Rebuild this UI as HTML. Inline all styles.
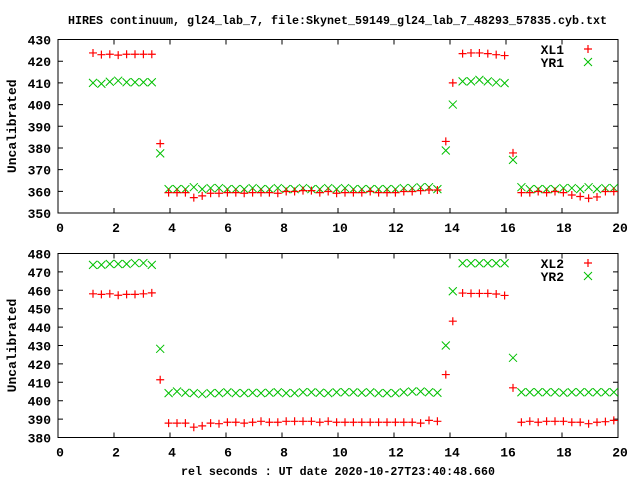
<!DOCTYPE html>
<html><head><meta charset="utf-8"><style>
html,body{margin:0;padding:0;background:#fff;}
svg{display:block;}
text{font-family:"Liberation Mono",monospace;font-weight:bold;font-size:13px;fill:#000;}
</style></head><body>
<svg id="chart" width="640" height="480" viewBox="0 0 640 480" xmlns="http://www.w3.org/2000/svg">
<text x="68" y="24" textLength="539" lengthAdjust="spacingAndGlyphs" style="font-size:12px">HIRES continuum, gl24_lab_7, file:Skynet_59149_gl24_lab_7_48293_57835.cyb.txt</text>
<text x="181" y="475" textLength="314" lengthAdjust="spacingAndGlyphs" style="font-size:12px">rel seconds : UT date 2020-10-27T23:40:48.660</text>
<g id="p1"></g>
<g id="p2"></g>
</svg>
<script>
const times=[1.25,1.55,1.85,2.15,2.45,2.75,3.05,3.35,3.65,3.95,4.25,4.55,4.85,5.15,5.45,5.75,6.05,6.35,6.65,6.95,7.25,7.55,7.85,8.15,8.45,8.75,9.05,9.35,9.65,9.95,10.25,10.55,10.85,11.15,11.45,11.75,12.05,12.35,12.65,12.95,13.25,13.55,13.85,14.1,14.45,14.75,15.05,15.35,15.65,15.95,16.25,16.55,16.85,17.15,17.45,17.75,18.05,18.35,18.65,18.95,19.25,19.55,19.85];
const xl1=[423.8,423,423.2,422.8,423.2,423.2,423.2,423.2,382,
359.4,359.4,359.4,357.1,357.9,359.1,359.1,359.4,359.4,359.1,359.4,359.4,359.4,359.1,359.9,359.9,360.3,360.3,359.4,359.9,359.1,
359.4,359.4,359.4,359.9,359.4,359.4,359.4,359.9,359.9,360.3,360.6,360.6,
383,410,423.5,423.8,423.8,423.5,423,422.6,377.7,
359.4,359.4,359.9,359.4,359.9,359.4,358.3,357.6,356.8,357.4,359.9,359.9];
const yr1=[410,409.6,410.5,411,410.3,410.3,410.3,410.3,377.5,
361,361,361,361.9,361,361.5,361.5,361,361,361,361.5,361,361,361.5,361,361,361.5,361,361,361.5,361,361.5,361,361,361,361,361,361,361.5,361.5,361.9,361.9,361,
378.8,400,410.7,410.7,411.4,410.7,410.2,409.9,374.5,
361.9,361,361,361,361,361.5,361.5,361,361.9,361,361.5,361.5];
const xl2=[458.1,457.8,458.1,457.3,457.8,457.8,458.1,458.6,411.4,
387.8,387.8,387.8,385.6,386.3,387.8,387.5,388.3,388.3,387.8,388.3,388.8,388.3,388.3,388.8,388.8,388.8,388.8,388.3,388.8,388.3,388.3,388.3,388.3,388.3,388.3,388.3,388.3,388.3,388.3,387.8,389.3,388.8,
414.2,443.2,458.5,458.3,458.3,458.3,458,457.2,407,
388.3,388.8,388.3,388.8,388.8,388.8,388.3,388.3,387.5,388.3,388.6,389.3];
const yr2=[473.8,473.8,474.3,474.3,474.3,474.8,474.8,473.8,428.2,
404.1,405,404.3,404.1,403.6,404.1,404.1,404.6,404.1,404.1,404.3,404.1,404.3,404.6,404.1,404.1,404.6,404.6,404.3,404.1,404.6,404.6,404.6,404.3,404.6,404.1,404.1,404.1,404.6,405,405,404.6,404.3,
430,459.5,474.7,474.7,474.7,474.7,474.7,474.7,423.3,
404.6,404.6,404.6,404.6,404.6,404.3,404.6,404.6,404.6,404.6,404.6,404.6];
const xTicks=[0,2,4,6,8,10,12,14,16,18,20];
const yTicks1=[350,360,370,380,390,400,410,420,430];
const yTicks2=[380,390,400,410,420,430,440,450,460,470,480];
const legend1=["XL1","YR1"];
const legend2=["XL2","YR2"];

const NS="http://www.w3.org/2000/svg";
function mk(tag,attrs,parent){const e=document.createElementNS(NS,tag);for(const k in attrs)e.setAttribute(k,attrs[k]);parent.appendChild(e);return e;}
const L=58,R=618;
const xs=v=>L+(v-0)/(20-0)*(R-L);
function plus(g,x,y,name){
  const p=mk('path',{d:`M${x-4},${y}H${x+4}M${x},${y-4}V${y+4}`,stroke:'#ff0000','stroke-width':1.2,fill:'none'},g);
  
  
}
function cross(g,x,y,name){
  const p=mk('path',{d:`M${x-4},${y-4}L${x+4},${y+4}M${x-4},${y+4}L${x+4},${y-4}`,stroke:'#00c000','stroke-width':1,fill:'none'},g);
  
  
}
function panel(g,T,B,ymin,ymax,yTicks,sA,sB,leg,lx,ly){
  const ys=v=>B-(v-ymin)/(ymax-ymin)*(B-T);
  const f=mk('rect',{x:L,y:T,width:R-L,height:B-T,fill:'none',stroke:'#000','stroke-width':1},g);
  
  
  yTicks.forEach(v=>{const y=ys(v);
    mk('path',{d:`M${L},${y}h5M${R},${y}h-5`,stroke:'#000'},g);
    const t=mk('text',{x:51,y:y+5,'text-anchor':'end'},g);t.textContent=v;
    
    
  });
  xTicks.forEach(v=>{const x=xs(v);
    mk('path',{d:`M${x},${B}v-5M${x},${T}v5`,stroke:'#000'},g);
    const t=mk('text',{x:x+2,y:B+19,'text-anchor':'middle'},g);t.textContent=v;
    
    
  });
  const yl=mk('text',{x:16,y:(T+B)/2,'text-anchor':'middle',transform:`rotate(-90 16 ${(T+B)/2})`},g);
  yl.textContent='Uncalibrated';
  
  
  times.forEach((t,i)=>{cross(g,xs(t),ys(sB[i]),'point-yr');});
  times.forEach((t,i)=>{plus(g,xs(t),ys(sA[i]),'point-xl');});
  leg.forEach((n,i)=>{
    const t=mk('text',{x:564,y:ly+i*13+5,'text-anchor':'end'},g);t.textContent=n;
    
    
    if(i===0)plus(g,588,ly,'legend-marker-xl');else cross(g,588,ly+13,'legend-marker-yr');
  });
}
panel(document.getElementById('p1'),39.5,213,350,430,yTicks1,xl1,yr1,legend1,0,49);
panel(document.getElementById('p2'),253.5,437.5,380,480,yTicks2,xl2,yr2,legend2,0,263);
</script>
</body></html>
